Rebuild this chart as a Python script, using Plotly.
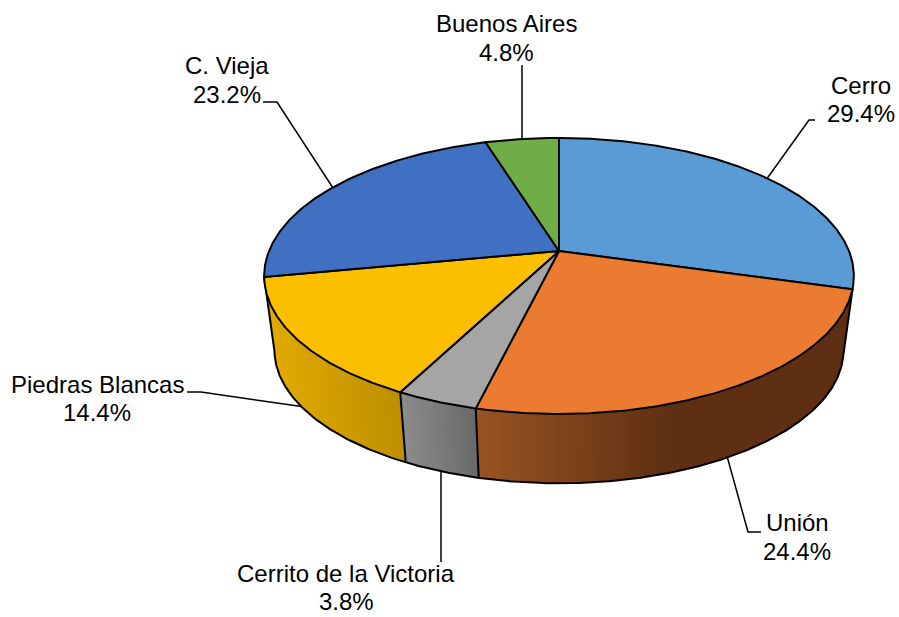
import math
import plotly.graph_objects as go

# ---- data ----
categories = ["Cerro", "Unión", "Cerrito de la Victoria", "Piedras Blancas", "C. Vieja", "Buenos Aires"]
values = [29.4, 24.4, 3.8, 14.4, 23.2, 4.8]
top_colors = ["#5b9bd5", "#ea7b31", "#a5a5a5", "#fbbf00", "#4070c2", "#70ad47"]

# side shading: slice index -> (colour at start x, colour at end x, x where the end colour is reached)
side_shades = {
    1: ("#5e2f12", "#995423", 672),
    2: ("#696969", "#8c8c8c", None),
    3: ("#bd8f00", "#e2ab00", None),
}

label_pos = {
    "Cerro": (861, 85, 113), "Unión": (797, 522, 551),
    "Cerrito de la Victoria": (346, 573, 601), "Piedras Blancas": (97, 384, 412),
    "C. Vieja": (227, 65, 94), "Buenos Aires": (506.5, 23, 52),
}
leaders = [
    [(522, 65), (522, 139)],
    [(815, 120), (809, 120), (766, 180)],
    [(263, 102), (277, 102), (333, 188)],
    [(187, 392), (201, 392), (305, 407)],
    [(441, 562), (441, 470)],
    [(761, 532), (748, 532), (727, 456)],
]

# ---- perspective projection of the disc ----
CX, CY, A, B, K = 559, 251, 290, 133.5, -0.181
DEPTH, SCALE = 75, 0.965
SILHOUETTE_DEG = 100


def top(deg):
    t = math.radians(deg)
    u, v = math.sin(t), -math.cos(t)
    d = 1 + K * v
    return CX + A * u / d, CY + B * v / d


def bottom(deg):
    t = math.radians(deg)
    u, v = math.sin(t), -math.cos(t)
    d = 1 + K * v
    return CX + SCALE * A * u / d, CY + DEPTH + SCALE * B * v / d


def arange(a, b, n=None):
    n = n or max(2, int(abs(b - a) * 2))
    return [a + (b - a) * i / n for i in range(n + 1)]


def mix(c1, c2, f):
    f = max(0, min(1, f))
    a = [int(c1[i:i + 2], 16) for i in (1, 3, 5)]
    b = [int(c2[i:i + 2], 16) for i in (1, 3, 5)]
    return "rgb(%d,%d,%d)" % tuple(round(x + (y - x) * f) for x, y in zip(a, b))


total = sum(values)
edges = [0]
for val in values:
    edges.append(edges[-1] + val / total * 360)

fig = go.Figure()


def poly(pts, fill=None, line=None, width=0):
    xs, ys = zip(*pts)
    fig.add_trace(go.Scatter(
        x=list(xs), y=list(ys), mode="lines",
        fill="toself" if fill else "none", fillcolor=fill,
        line=dict(color=line or fill or "black", width=width),
        hoverinfo="skip", showlegend=False,
    ))


# side walls: each band runs from its start to the slice's far end and is painted over
# by the next one, so that no seam shows between the shades
for i, (c_end, c_start, x_end) in side_shades.items():
    a0, a1 = edges[i], edges[i + 1]
    x_dark, x_light = top(a0)[0], top(a1)[0]
    limit = x_end if x_end else x_dark
    start = SILHOUETTE_DEG if i == 1 else a0
    steps = arange(start, a1, max(3, int((a1 - start))))
    for p, q in zip(steps[:-1], steps[1:]):
        xm = (top(max(p, a0))[0] + top(max(q, a0))[0]) / 2
        f = (xm - x_light) / (limit - x_light)
        col = mix(c_start, c_end, f)
        rest = arange(p, a1, max(2, int(a1 - p)))
        outline = [top(max(d, a0)) for d in rest] + [bottom(d) for d in reversed(rest)]
        poly(outline, fill=col, width=0)

# outlines of the side walls
sil = arange(SILHOUETTE_DEG, edges[4])
poly([top(edges[1])] + [bottom(d) for d in sil] + [top(edges[4])], line="#000000", width=2)
for i in (2, 3):
    poly([top(edges[i]), bottom(edges[i])], line="#000000", width=2)

# top face slices
for i, col in enumerate(top_colors):
    arc = [top(d) for d in arange(edges[i], edges[i + 1])]
    poly([(CX, CY)] + arc + [(CX, CY)], fill=col, line="#000000", width=2)

shapes = [
    dict(type="path",
         path="M " + " L ".join(f"{x},{y}" for x, y in seg),
         line=dict(color="#000000", width=1.5), xref="x", yref="y", layer="below")
    for seg in leaders
]

annotations = []
for name, val in zip(categories, values):
    x, y1, y2 = label_pos[name]
    for text, y in ((name, y1), (f"{val:.1f}%", y2)):
        annotations.append(dict(x=x, y=y, text=text, showarrow=False,
                                xanchor="center", yanchor="middle",
                                font=dict(family="Liberation Sans", size=24, color="#000000")))

fig.update_layout(
    width=899, height=617, margin=dict(l=0, r=0, t=0, b=0),
    paper_bgcolor="white", plot_bgcolor="white", showlegend=False,
    xaxis=dict(range=[0, 899], visible=False, fixedrange=True),
    yaxis=dict(range=[617, 0], visible=False, fixedrange=True),
    shapes=shapes, annotations=annotations,
)
fig.write_html("out.html", config={"displayModeBar": False},
               post_script="document.body.style.margin='0';document.body.style.overflow='hidden';")
